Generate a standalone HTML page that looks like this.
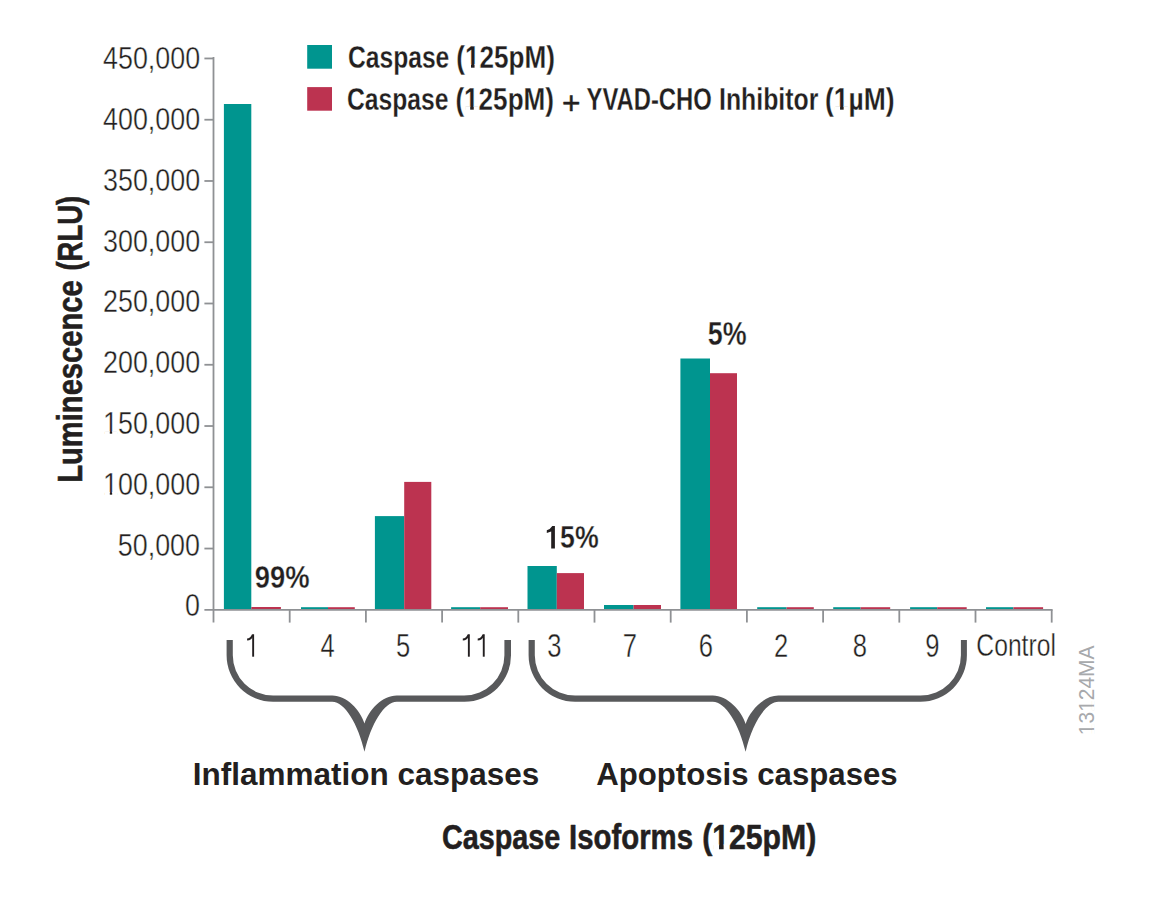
<!DOCTYPE html>
<html><head><meta charset="utf-8"><title>Caspase isoform luminescence chart</title>
<style>html,body{margin:0;padding:0;background:#fff;}svg{display:block;}text{font-family:"Liberation Sans",sans-serif;font-size:100px;}.lt{stroke:#fff;stroke-width:1.2px;stroke-linejoin:round;}.bt{stroke:#fff;stroke-width:0.8px;stroke-linejoin:round;}.hv{stroke:#231f20;stroke-width:1.6px;stroke-linejoin:round;}.wm{stroke:#fff;stroke-width:1.6px;stroke-linejoin:round;}.pt{stroke:#fff;stroke-width:1.0px;stroke-linejoin:round;}</style>
</head><body>
<svg width="1151" height="898" viewBox="0 0 1151 898">
<rect width="1151" height="898" fill="#fff"/>
<rect x="223.9" y="104.0" width="27.40" height="505.80" fill="#00958f"/>
<rect x="251.3" y="607.0" width="29.60" height="2.80" fill="#bc3350"/>
<rect x="301.0" y="607.2" width="27.00" height="2.60" fill="#00958f"/>
<rect x="328.0" y="607.2" width="26.80" height="2.60" fill="#bc3350"/>
<rect x="374.9" y="516.1" width="29.30" height="93.70" fill="#00958f"/>
<rect x="404.2" y="481.9" width="27.10" height="127.90" fill="#bc3350"/>
<rect x="451.1" y="607.2" width="29.10" height="2.60" fill="#00958f"/>
<rect x="480.2" y="607.2" width="27.80" height="2.60" fill="#bc3350"/>
<rect x="527.5" y="566.0" width="29.30" height="43.80" fill="#00958f"/>
<rect x="556.8" y="573.1" width="27.20" height="36.70" fill="#bc3350"/>
<rect x="604.0" y="605.0" width="29.60" height="4.80" fill="#00958f"/>
<rect x="633.6" y="605.0" width="27.40" height="4.80" fill="#bc3350"/>
<rect x="680.4" y="358.5" width="29.60" height="251.30" fill="#00958f"/>
<rect x="710.0" y="373.2" width="27.00" height="236.60" fill="#bc3350"/>
<rect x="757.2" y="607.2" width="29.40" height="2.60" fill="#00958f"/>
<rect x="786.6" y="607.2" width="27.20" height="2.60" fill="#bc3350"/>
<rect x="833.2" y="607.2" width="27.40" height="2.60" fill="#00958f"/>
<rect x="860.6" y="607.2" width="29.60" height="2.60" fill="#bc3350"/>
<rect x="910.1" y="607.2" width="27.10" height="2.60" fill="#00958f"/>
<rect x="937.2" y="607.2" width="29.50" height="2.60" fill="#bc3350"/>
<rect x="986.0" y="607.2" width="27.40" height="2.60" fill="#00958f"/>
<rect x="1013.4" y="607.2" width="29.70" height="2.60" fill="#bc3350"/>
<rect x="252.20" y="634.25" width="1.9" height="22.45" fill="#231f20"/>
<path d="M247.10,639.5 Q250.90,639.5 252.80,634.9" stroke="#231f20" stroke-width="2" fill="none"/>
<rect x="467.90" y="634.25" width="1.9" height="22.45" fill="#231f20"/>
<path d="M462.80,639.5 Q466.60,639.5 468.50,634.9" stroke="#231f20" stroke-width="2" fill="none"/>
<rect x="482.80" y="634.25" width="1.9" height="22.45" fill="#231f20"/>
<path d="M477.70,639.5 Q481.50,639.5 483.40,634.9" stroke="#231f20" stroke-width="2" fill="none"/>
<path d="M552.3,526 H554.9 V548.6 H551.2 V531.6 L546.8,532.9 V530.3 Q550.3,529.3 552.3,526 Z" fill="#231f20"/>
<rect x="307.2" y="45" width="24.8" height="23.7" fill="#00958f"/>
<rect x="307.2" y="87.1" width="24.8" height="23.6" fill="#bc3350"/>
<path d="M226.6,640.0 H232.8 V655.3 A40.30,40.30 0 0 0 273.10,695.6 H332.20 C346.80,695.6 360.30,710.10 364.50,723.6 C368.70,710.10 382.20,695.6 396.80,695.6 H464.10 A40.30,40.30 0 0 0 504.4,655.3 V640.0 H511.0 V655.3 A46.50,46.50 0 0 1 464.50,701.8 H396.80 C384.20,701.8 370.90,724.30 364.50,751.8 C358.10,724.30 344.80,701.8 332.20,701.8 H273.10 A46.50,46.50 0 0 1 226.6,655.3 Z" fill="#58595b"/>
<path d="M528.6,640.0 H534.8 V655.3 A40.30,40.30 0 0 0 575.10,695.6 H712.80 C727.40,695.6 741.40,710.50 745.60,724.0 C749.80,710.50 763.80,695.6 778.40,695.6 H920.60 A40.30,40.30 0 0 0 960.9,655.3 V640.0 H966.9 V655.3 A46.50,46.50 0 0 1 920.40,701.8 H778.40 C765.80,701.8 752.00,724.30 745.60,751.8 C739.20,724.30 725.40,701.8 712.80,701.8 H575.10 A46.50,46.50 0 0 1 528.6,655.3 Z" fill="#58595b"/>
<g stroke="#8f9194" stroke-width="1.8" fill="none">
<line x1="213.5" y1="56.9" x2="213.5" y2="622.6"/>
<line x1="204.4" y1="609.8" x2="1052.6" y2="609.8"/>
<line x1="204.4" y1="58.46" x2="213.5" y2="58.46"/>
<line x1="204.4" y1="119.72" x2="213.5" y2="119.72"/>
<line x1="204.4" y1="180.98" x2="213.5" y2="180.98"/>
<line x1="204.4" y1="242.24" x2="213.5" y2="242.24"/>
<line x1="204.4" y1="303.50" x2="213.5" y2="303.50"/>
<line x1="204.4" y1="364.76" x2="213.5" y2="364.76"/>
<line x1="204.4" y1="426.02" x2="213.5" y2="426.02"/>
<line x1="204.4" y1="487.28" x2="213.5" y2="487.28"/>
<line x1="204.4" y1="548.54" x2="213.5" y2="548.54"/>
<line x1="289.70" y1="609.8" x2="289.70" y2="622.6"/>
<line x1="365.90" y1="609.8" x2="365.90" y2="622.6"/>
<line x1="442.10" y1="609.8" x2="442.10" y2="622.6"/>
<line x1="518.30" y1="609.8" x2="518.30" y2="622.6"/>
<line x1="594.50" y1="609.8" x2="594.50" y2="622.6"/>
<line x1="670.70" y1="609.8" x2="670.70" y2="622.6"/>
<line x1="746.90" y1="609.8" x2="746.90" y2="622.6"/>
<line x1="823.10" y1="609.8" x2="823.10" y2="622.6"/>
<line x1="899.30" y1="609.8" x2="899.30" y2="622.6"/>
<line x1="975.50" y1="609.8" x2="975.50" y2="622.6"/>
<line x1="1051.70" y1="609.8" x2="1051.70" y2="622.6"/>
</g>
<text class="lt" transform="matrix(0.26873 0.00000 0.00000 0.32277 103.02 69.35)" font-weight="400" fill="#231f20">450,000</text>
<text class="lt" transform="matrix(0.26873 0.00000 0.00000 0.32277 103.02 130.13)" font-weight="400" fill="#231f20">400,000</text>
<text class="lt" transform="matrix(0.26873 0.00000 0.00000 0.32277 103.02 190.91)" font-weight="400" fill="#231f20">350,000</text>
<text class="lt" transform="matrix(0.26873 0.00000 0.00000 0.32277 103.02 251.69)" font-weight="400" fill="#231f20">300,000</text>
<text class="lt" transform="matrix(0.26873 0.00000 0.00000 0.32277 103.02 312.47)" font-weight="400" fill="#231f20">250,000</text>
<text class="lt" transform="matrix(0.26873 0.00000 0.00000 0.32277 103.02 373.25)" font-weight="400" fill="#231f20">200,000</text>
<g transform="matrix(0.26873 0.00000 0.00000 0.32277 103.02 434.03)"><text class="lt" font-weight="400" fill="#231f20">150,000</text><rect x="5.50" y="-8.60" width="19.70" height="12.60" fill="#fff"/><rect x="34.00" y="-8.60" width="19.00" height="12.60" fill="#fff"/></g>
<g transform="matrix(0.26873 0.00000 0.00000 0.32277 103.02 494.81)"><text class="lt" font-weight="400" fill="#231f20">100,000</text><rect x="5.50" y="-8.60" width="19.70" height="12.60" fill="#fff"/><rect x="34.00" y="-8.60" width="19.00" height="12.60" fill="#fff"/></g>
<text class="lt" transform="matrix(0.26873 0.00000 0.00000 0.32277 117.80 555.59)" font-weight="400" fill="#231f20">50,000</text>
<text class="lt" transform="matrix(0.26873 0.00000 0.00000 0.32277 184.99 616.37)" font-weight="400" fill="#231f20">0</text>
<text class="lt" transform="matrix(0.25600 0.00000 0.00000 0.32438 320.46 656.60)" font-weight="400" fill="#231f20">4</text>
<text class="lt" transform="matrix(0.25600 0.00000 0.00000 0.32438 396.06 656.60)" font-weight="400" fill="#231f20">5</text>
<text class="lt" transform="matrix(0.25600 0.00000 0.00000 0.32438 547.26 656.60)" font-weight="400" fill="#231f20">3</text>
<text class="lt" transform="matrix(0.25600 0.00000 0.00000 0.32438 622.83 656.60)" font-weight="400" fill="#231f20">7</text>
<text class="lt" transform="matrix(0.25600 0.00000 0.00000 0.32438 698.63 656.60)" font-weight="400" fill="#231f20">6</text>
<text class="lt" transform="matrix(0.25600 0.00000 0.00000 0.32438 773.93 656.60)" font-weight="400" fill="#231f20">2</text>
<text class="lt" transform="matrix(0.25600 0.00000 0.00000 0.32438 852.71 656.60)" font-weight="400" fill="#231f20">8</text>
<text class="lt" transform="matrix(0.25600 0.00000 0.00000 0.32438 925.13 656.60)" font-weight="400" fill="#231f20">9</text>
<text class="lt" transform="matrix(0.24693 0.00000 0.00000 0.31844 976.32 656.20)" font-weight="400" fill="#231f20">Control</text>
<text class="bt" transform="matrix(0.24653 0.00000 0.00000 0.32184 347.92 67.70)" font-weight="700" fill="#231f20">Caspase</text>
<g transform="matrix(0.26117 0.00000 0.00000 0.32184 456.19 67.70)"><text class="bt" font-weight="700" fill="#231f20">(125pM)</text><rect x="37.31" y="-11.60" width="19.40" height="15.60" fill="#fff"/><rect x="70.31" y="-11.60" width="18.50" height="15.60" fill="#fff"/></g>
<text class="bt" transform="matrix(0.24702 0.00000 0.00000 0.31897 346.91 110.20)" font-weight="700" fill="#231f20">Caspase</text>
<g transform="matrix(0.26117 0.00000 0.00000 0.31897 455.39 110.20)"><text class="bt" font-weight="700" fill="#231f20">(125pM)</text><rect x="37.31" y="-11.60" width="19.40" height="15.60" fill="#fff"/><rect x="70.31" y="-11.60" width="18.50" height="15.60" fill="#fff"/></g>
<text class="bt" transform="matrix(0.23825 0.00000 0.00000 0.31897 586.53 110.20)" font-weight="700" fill="#231f20">YVAD-CHO</text>
<text class="bt" transform="matrix(0.24833 0.00000 0.00000 0.31897 719.06 110.20)" font-weight="700" fill="#231f20">Inhibitor</text>
<g transform="matrix(0.26447 0.00000 0.00000 0.31897 825.07 110.20)"><text class="bt" font-weight="700" fill="#231f20">(1µM)</text><rect x="37.31" y="-11.60" width="19.40" height="15.60" fill="#fff"/><rect x="70.31" y="-11.60" width="18.50" height="15.60" fill="#fff"/></g>
<text class="hv" transform="matrix(0.31653 0.00000 0.00000 0.30830 562.07 114.03)" font-weight="400" fill="#231f20">+</text>
<text class="pt" transform="matrix(0.27396 0.00000 0.00000 0.31942 254.87 588.00)" font-weight="700" fill="#231f20">99%</text>
<text class="pt" transform="matrix(0.26739 0.00000 0.00000 0.32263 560.06 548.40)" font-weight="700" fill="#231f20">5%</text>
<text class="pt" transform="matrix(0.26884 0.00000 0.00000 0.32555 707.76 344.50)" font-weight="700" fill="#231f20">5%</text>
<text transform="matrix(0.31506 0.00000 0.00000 0.31449 192.69 785.00)" font-weight="700" fill="#231f20">Inflammation caspases</text>
<text transform="matrix(0.31187 0.00000 0.00000 0.31739 596.16 785.00)" font-weight="700" fill="#231f20">Apoptosis caspases</text>
<text class="hv" transform="matrix(0.28772 0.00000 0.00000 0.35817 441.88 848.90)" font-weight="700" fill="#231f20">Caspase</text>
<text class="hv" transform="matrix(0.29350 0.00000 0.00000 0.35817 569.08 848.90)" font-weight="700" fill="#231f20">Isoforms</text>
<g transform="matrix(0.30222 0.00000 0.00000 0.35817 702.13 848.90)"><text class="hv" font-weight="700" fill="#231f20">(125pM)</text><rect x="36.51" y="-12.40" width="19.40" height="16.40" fill="#fff"/><rect x="71.11" y="-12.40" width="18.50" height="16.40" fill="#fff"/></g>
<text class="hv" transform="matrix(0.00000 -0.29157 0.35530 0.00000 81.90 482.81)" font-weight="700" fill="#231f20">Luminescence</text>
<text class="hv" transform="matrix(0.00000 -0.27504 0.35530 0.00000 81.90 270.56)" font-weight="700" fill="#231f20">(RLU)</text>
<g transform="matrix(0.00000 -0.20976 0.21714 0.00000 1093.90 735.18)"><text font-weight="400" fill="#a7a9ac">13124MA</text><rect x="5.50" y="-8.60" width="19.70" height="12.60" fill="#fff"/><rect x="34.00" y="-8.60" width="19.00" height="12.60" fill="#fff"/><rect x="116.75" y="-8.60" width="19.70" height="12.60" fill="#fff"/><rect x="145.25" y="-8.60" width="19.00" height="12.60" fill="#fff"/></g>
</svg>
</body></html>
